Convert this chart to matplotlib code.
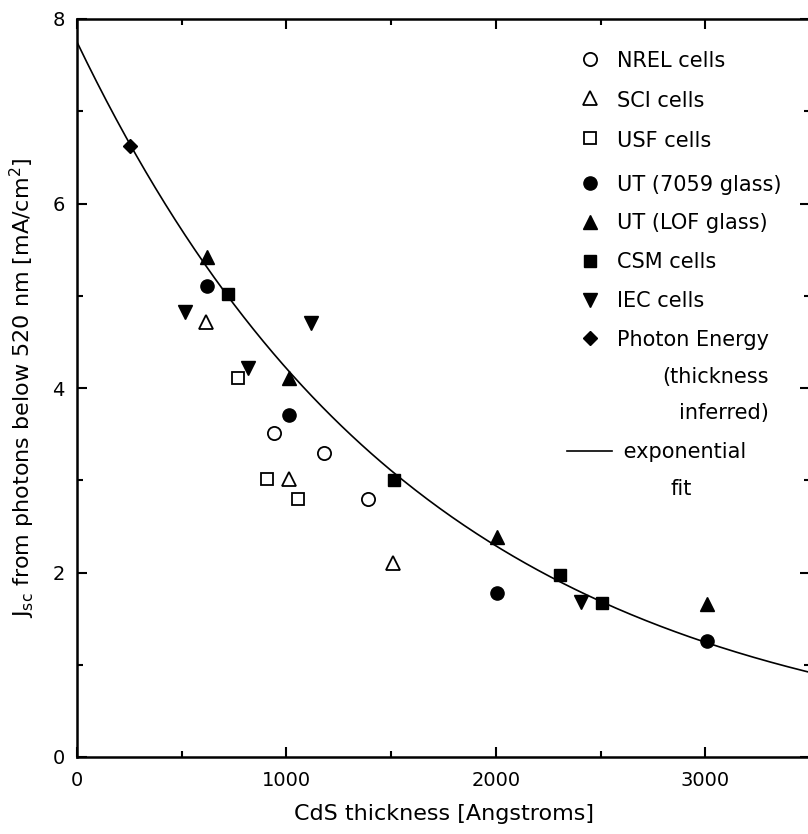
import numpy as np
import matplotlib.pyplot as plt
from matplotlib.ticker import MultipleLocator

# CdS thickness [Angstroms] and Jsc from photons below 520 nm [mA/cm2]
nrel_x = [940, 1180, 1390]
nrel_y = [3.51, 3.30, 2.80]
sci_x = [617, 1010, 1507]
sci_y = [4.72, 3.01, 2.10]
usf_x = [770, 909, 1057]
usf_y = [4.11, 3.01, 2.80]
ut7059_x = [622, 1014, 2005, 3010]
ut7059_y = [5.11, 3.71, 1.78, 1.26]
utlof_x = [622, 1014, 2005, 3010]
utlof_y = [5.42, 4.11, 2.39, 1.66]
csm_x = [722, 1512, 2306, 2507]
csm_y = [5.02, 3.00, 1.97, 1.67]
iec_x = [517, 818, 1115, 2407]
iec_y = [4.82, 4.22, 4.71, 1.68]
photon_x = [254]
photon_y = [6.62]

# exponential fit  J = A * exp(-d / L)
fit_A = 7.75
fit_L = 1640.0

plt.rcParams['font.family'] = 'DejaVu Sans'
plt.rcParams['mathtext.fontset'] = 'dejavusans'

fig = plt.figure(figsize=(8.08, 8.34), dpi=100)
ax = fig.add_axes([77 / 808, 77 / 834, 733 / 808, 738 / 834])

ms = 9.5
h1, = ax.plot(nrel_x, nrel_y, 'o', mfc='white', mec='black', mew=1.3, ms=ms)
h2, = ax.plot(sci_x, sci_y, '^', mfc='white', mec='black', mew=1.3, ms=ms)
h3, = ax.plot(usf_x, usf_y, 's', mfc='white', mec='black', mew=1.3, ms=8)
h4, = ax.plot(ut7059_x, ut7059_y, 'o', color='black', ms=ms)
h5, = ax.plot(utlof_x, utlof_y, '^', color='black', ms=ms)
h6, = ax.plot(csm_x, csm_y, 's', color='black', ms=8)
h7, = ax.plot(iec_x, iec_y, 'v', color='black', ms=ms)
h8, = ax.plot(photon_x, photon_y, 'D', color='black', ms=7.5)

d = np.linspace(0, 3500, 300)
h9, = ax.plot(d, fit_A * np.exp(-d / fit_L), color='black', lw=1.2)

ax.set_xlim(0, 3500)
ax.set_ylim(0, 8)
ax.xaxis.set_major_locator(MultipleLocator(1000))
ax.xaxis.set_minor_locator(MultipleLocator(500))
ax.yaxis.set_major_locator(MultipleLocator(2))
ax.yaxis.set_minor_locator(MultipleLocator(1))
ax.tick_params(which='both', direction='in', top=True, right=True,
               width=1.5, labelsize=14)
ax.tick_params(which='major', length=7)
ax.tick_params(which='minor', length=4)
ax.tick_params(axis='x', pad=10)
ax.tick_params(axis='y', pad=9)
for s in ax.spines.values():
    s.set_linewidth(1.8)

ax.set_xlabel('CdS thickness [Angstroms]', fontsize=16, labelpad=10)
ax.set_ylabel(r'J$_{\mathregular{sc}}$ from photons below 520 nm '
              r'[mA/cm$^{\mathregular{2}}$]', fontsize=16, labelpad=11)

leg_kw = dict(frameon=False, fontsize=15, loc='upper left',
              borderpad=0, borderaxespad=0, handlelength=2.2,
              handleheight=1.1, handletextpad=0.2, labelspacing=0.9)
leg1 = ax.legend([h1, h2, h3], ['NREL cells', 'SCI cells', 'USF cells'],
                 bbox_to_anchor=(0.668, 0.958), **leg_kw)
ax.add_artist(leg1)
leg2 = ax.legend([h4, h5, h6, h7, h8, h9],
                 ['UT (7059 glass)', 'UT (LOF glass)', 'CSM cells', 'IEC cells',
                  'Photon Energy\n(thickness\ninferred)', ' exponential\nfit'],
                 bbox_to_anchor=(0.668, 0.789), **leg_kw)
for t in leg2.get_texts():
    if t.get_text().startswith('Photon'):
        t.set_multialignment('right')
    elif 'fit' in t.get_text():
        t.set_multialignment('center')
    t.set_linespacing(2.05)
# keep the symbol next to the first line of a multi-line label
for col in leg2._legend_handle_box.get_children():
    for item in col.get_children():
        item.align = 'top'

fig.savefig('out.png', dpi=100)
